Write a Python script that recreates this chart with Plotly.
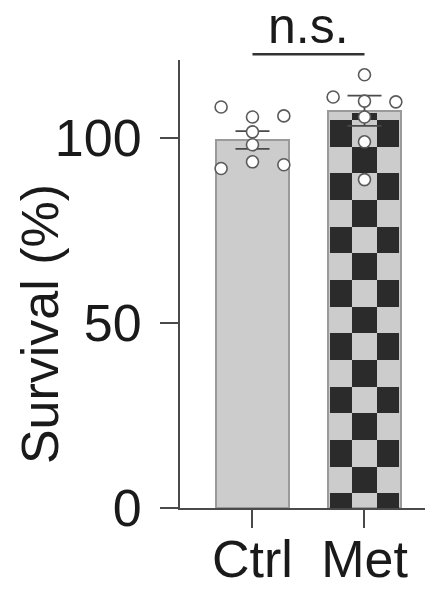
import plotly.graph_objects as go

# ---- data ----
categories = ["Ctrl", "Met"]
means = [99.4, 107.3]
sems = [2.4, 4.1]
ctrl_values = [108.3, 105.6, 105.9, 101.6, 98.1, 93.5, 91.7, 92.7]
met_values = [117.0, 111.0, 109.9, 109.7, 105.6, 98.9, 88.7]
y_ticks = [0, 50, 100]
sig_label = "n.s."
y_title = "Survival (%)"

# ---- layout / style parameters ----
ctrl_offsets = [-0.28, 0, 0.28, 0, 0, 0, -0.28, 0.28]
met_offsets = [0, -0.28, 0, 0.28, 0, 0, 0]
bar_w = 0.652
x_range = [-0.647, 1.683]
y_range = [0, 121]
FONT = "Liberation Sans, Arial, Helvetica, sans-serif"
TXT = "#1a1a1a"
light = "#cccccc"
dark = "#2b2b2b"
edge = "#9a9a9a"
axis_col = "#4a4a4a"
cell_w = 0.228      # checker cell width (x units)
cell_h = 7.2        # checker cell height (y units)
phase = 4.0         # checker vertical phase (y units)
inset_x = 0.022
inset_y = 0.6
ML, MR, MT, MB = 172, 0, 52, 90
W, H = 433, 590

fig = go.Figure()

# bars
fig.add_trace(go.Bar(
    x=[0, 1], y=means, width=bar_w,
    marker=dict(color=[light, light], line=dict(color=edge, width=2)),
    hoverinfo="skip", showlegend=False))

# checkerboard on the Met bar
cx = 1
top = means[1] - inset_y
left = cx - bar_w / 2 + inset_x
right = cx + bar_w / 2 - inset_x
sx, sw, sb, sh = [], [], [], []
for c in (-1, 0, 1):
    x0 = max(cx + c * cell_w - cell_w / 2, left)
    x1 = min(cx + c * cell_w + cell_w / 2, right)
    k = 0
    while True:
        y0 = phase + (k - 1) * cell_h
        y1 = phase + k * cell_h
        if y0 >= top:
            break
        y0c, y1c = max(y0, 0), min(y1, top)
        if (k + c) % 2 == 1 and y1c > y0c:
            sx.append((x0 + x1) / 2)
            sw.append(x1 - x0)
            sb.append(y0c)
            sh.append(y1c - y0c)
        k += 1
fig.add_trace(go.Bar(
    x=sx, y=sh, base=sb, width=sw,
    marker=dict(color=dark, line=dict(width=0)),
    hoverinfo="skip", showlegend=False))

# error bars
fig.add_trace(go.Scatter(
    x=[0, 1], y=means, mode="markers",
    marker=dict(size=1, color="rgba(0,0,0,0)"),
    error_y=dict(type="data", array=sems, color=axis_col, thickness=1.8, width=17),
    hoverinfo="skip", showlegend=False))

# individual points
for i, (vals, offs) in enumerate([(ctrl_values, ctrl_offsets), (met_values, met_offsets)]):
    fig.add_trace(go.Scatter(
        x=[i + o for o in offs], y=vals, mode="markers",
        marker=dict(size=12, color="white", line=dict(color="#5a5a5a", width=1.6)),
        cliponaxis=False, hoverinfo="skip", showlegend=False))

# significance bracket (paper coords computed from the axis range)
def xpaper(v):
    return (v - x_range[0]) / (x_range[1] - x_range[0])

fig.add_shape(type="line", xref="paper", yref="paper",
              x0=xpaper(0), x1=xpaper(1), y0=1.013, y1=1.013,
              line=dict(color="#333333", width=2.5))
fig.add_annotation(x=0.5, xref="x", y=1.0766, yref="paper", text=sig_label,
                   showarrow=False, yanchor="middle",
                   font=dict(family=FONT, size=50, color=TXT))

# y-axis title
fig.add_annotation(x=-0.536, xref="paper", y=0.4107, yref="paper", text=y_title,
                   textangle=-90, showarrow=False, xanchor="center", yanchor="middle",
                   font=dict(family=FONT, size=52, color=TXT))

fig.update_layout(
    width=W, height=H,
    margin=dict(l=ML, r=MR, t=MT, b=MB),
    paper_bgcolor="white", plot_bgcolor="white",
    barmode="overlay", bargap=0,
    font=dict(family=FONT, color=TXT),
    showlegend=False,
)
fig.update_xaxes(
    range=x_range, tickmode="array", tickvals=[0, 1], ticktext=categories,
    showline=True, linecolor=axis_col, linewidth=2,
    ticks="outside", ticklen=18, tickwidth=2, tickcolor=axis_col,
    tickfont=dict(family=FONT, size=52, color=TXT),
    ticklabelstandoff=-13,
    showgrid=False, zeroline=False, fixedrange=True)
fig.update_yaxes(
    range=y_range, tickmode="array", tickvals=y_ticks,
    showline=True, linecolor=axis_col, linewidth=2,
    ticks="outside", ticklen=18, tickwidth=2, tickcolor=axis_col,
    tickfont=dict(family=FONT, size=52, color=TXT),
    ticklabelstandoff=8,
    showgrid=False, zeroline=False, fixedrange=True)

fig.write_html("out.html")
